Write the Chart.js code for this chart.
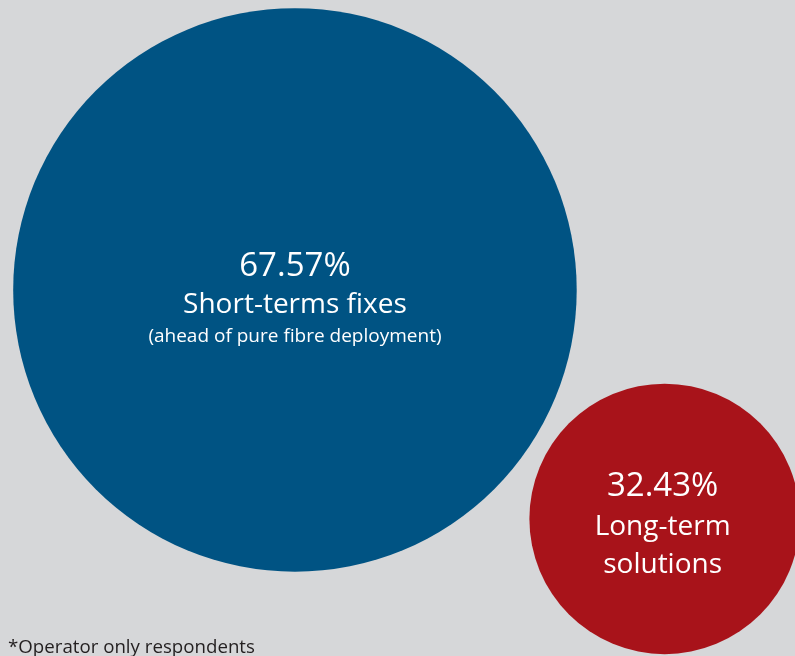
<!DOCTYPE html>
<html>
<head>
<meta charset="utf-8">
<script src="https://cdn.jsdelivr.net/npm/chart.js@4"></script>
<style>
  html, body { margin: 0; padding: 0; background: #d6d7d9; }
  #wrap { width: 795px; height: 656px; position: relative; }
</style>
</head>
<body>
<div id="wrap"><canvas id="bubbles" width="795" height="656"></canvas></div>
<script>
// Survey split (operator respondents)
const categories = ['Short-terms fixes', 'Long-term solutions'];
const shares = [67.57, 32.43];
const subLabels = [
  ['Short-terms fixes', '(ahead of pure fibre deployment)'],
  ['Long-term', 'solutions']
];
// bubble centres on a 0-100 grid
const centreX = [37.1, 83.6];
const centreY = [55.8, 20.9];
const bubbleColors = ['#005383', '#a8131a'];
const footnote = '*Operator only respondents';

const FONT = '"Open Sans", "Noto Sans", sans-serif';
const PX_PER_POINT = 4.17; // bubble radius per percentage point

// bubbles are allowed to run to the canvas edge, no extra inset
Chart.BubbleController.prototype.getMaxOverflow = function () { return 0; };

// text inside each bubble + footnote
const bubbleText = {
  id: 'bubbleText',
  afterDatasetsDraw(chart) {
    const ctx = chart.ctx;
    const meta = chart.getDatasetMeta(0);
    ctx.save();
    ctx.fillStyle = '#ffffff';
    ctx.textAlign = 'center';
    ctx.textBaseline = 'alphabetic';
    meta.data.forEach((el, i) => {
      const lines = subLabels[i];
      if (i === 0) {
        ctx.font = '33px ' + FONT;
        ctx.fillText(shares[i].toFixed(2) + '%', el.x, el.y - 14);
        ctx.font = '28px ' + FONT;
        ctx.fillText(lines[0], el.x, el.y + 23);
        ctx.font = '19px ' + FONT;
        ctx.fillText(lines[1], el.x, el.y + 52);
      } else {
        ctx.font = '33px ' + FONT;
        ctx.fillText(shares[i].toFixed(2) + '%', el.x - 2, el.y - 23);
        ctx.font = '28px ' + FONT;
        ctx.fillText(lines[0], el.x - 2, el.y + 16);
        ctx.fillText(lines[1], el.x - 2, el.y + 54);
      }
    });
    ctx.fillStyle = '#231f20';
    ctx.textAlign = 'left';
    ctx.font = '18.7px ' + FONT;
    ctx.fillText(footnote, 8, 653);
    ctx.restore();
  }
};

new Chart(document.getElementById('bubbles'), {
  type: 'bubble',
  data: {
    labels: categories,
    datasets: [{
      data: shares.map((v, i) => ({ x: centreX[i], y: centreY[i], r: v * PX_PER_POINT })),
      backgroundColor: bubbleColors,
      borderWidth: 0,
      hoverBorderWidth: 0
    }]
  },
  options: {
    responsive: false,
    animation: false,
    events: [],
    clip: false,
    layout: { padding: 0 },
    plugins: { legend: { display: false }, tooltip: { enabled: false } },
    scales: {
      x: { type: 'linear', min: 0, max: 100, display: false },
      y: { type: 'linear', min: 0, max: 100, display: false }
    }
  },
  plugins: [bubbleText]
});
</script>
</body>
</html>
